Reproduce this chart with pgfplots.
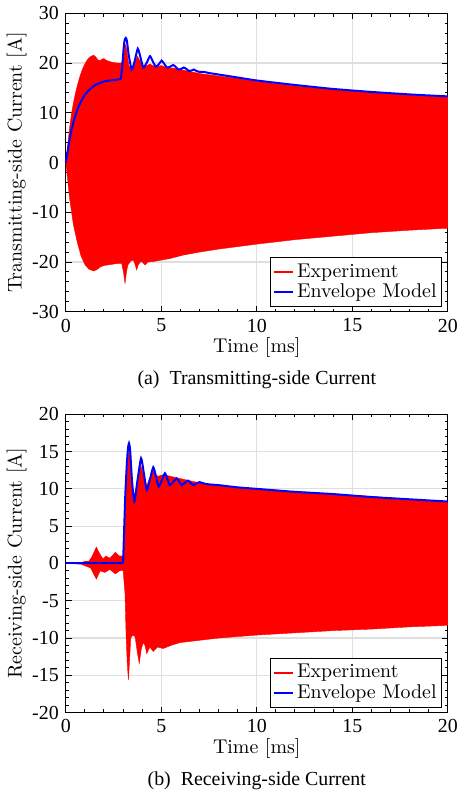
\documentclass[border=0pt]{standalone}
\usepackage{pgfplots}
\pgfplotsset{compat=1.18}
\usepackage{fontspec}
\newfontfamily\timesfont{Liberation Serif}
\begin{document}
\begin{tikzpicture}
\pgfplotsset{
  every axis/.append style={
    scale only axis, width=192pt, height=150pt,
    xmin=0, xmax=20, xtick={0,5,10,15,20},
    xticklabels={0,5,10,15,20},
    ticklabel style={font=\timesfont},
    minor x tick num=4, minor y tick num=4,
    tick align=inside, tick pos=both,
    major tick length=3pt, minor tick length=1.6pt,
    grid=major, major grid style={gray!25, line width=0.6pt},
    axis line style={line width=0.7pt},
    every tick/.style={black, line width=0.5pt},
    xlabel={Time [ms]},
    xlabel style={yshift=4pt},
    ylabel style={yshift=-4pt},
    legend style={at={(0.985,0.015)}, anchor=south east, draw=black, line width=0.5pt,
      font=\normalsize, inner sep=1pt, row sep=-2pt, nodes={inner xsep=1.5pt}},
    legend image code/.code={\draw[#1] (0cm,0cm) -- (0.34cm,0cm);},
    legend cell align=left,
    clip=false,
  }
}
% ---------------- (a) ----------------
\begin{axis}[
  ymin=-30, ymax=30, ytick={-30,-20,-10,0,10,20,30},
  yticklabels={-30,-20,-10,0,10,20,30},
  ylabel={Transmitting-side Current [A]},
]
\addplot[fill=red, draw=red, line width=0.2pt, forget plot] coordinates {
(0,0)(0.1,3.5)(0.2,7)(0.3,9.8)(0.4,12)(0.5,13.8)(0.6,15.4)(0.7,16.8)(0.8,18)(0.9,19)
(1.0,19.8)(1.1,20.5)(1.2,21)(1.3,21.3)(1.45,21.6)(1.55,21.3)(1.7,20.6)(1.8,20.5)(1.9,20.8)
(2.0,20.9)(2.1,20.6)(2.3,20.3)(2.5,20.1)(2.7,20.0)(2.88,20.0)(2.95,20.2)(3.02,21.5)(3.1,23.5)
(3.14,23.7)(3.2,22.5)(3.3,19.5)(3.45,18.7)(3.6,20)(3.75,21.4)(3.9,20.3)(4.06,19.3)(4.25,19.5)
(4.41,19.8)(4.6,19.4)(4.8,19.3)(5.0,19.5)(5.3,19.1)(5.6,19)(6,18.7)(7,17.9)(8.2,17.3)(9,16.9)
(10,16.3)(12,15.4)(14,14.7)(16,14.2)(18,13.6)(20,13.1)
(20,-13.2)(18,-13.6)(16,-14.1)(14,-14.8)(12,-15.5)(10,-16.4)(9,-16.9)(8,-17.4)(7,-18)
(6.15,-18.6)(5.45,-19.3)(4.58,-19.9)(4.3,-20)(4.15,-20.6)(3.95,-19.8)(3.8,-20.5)(3.71,-21.6)
(3.63,-20.5)(3.54,-19.6)(3.4,-19.8)(3.25,-20.6)(3.18,-22)(3.1,-24.3)(3.02,-22)(2.93,-20.3)
(2.7,-20.3)(2.0,-20.7)(1.8,-21)(1.6,-21.6)(1.45,-21.8)(1.2,-21.4)(1.0,-20.5)(0.8,-18.8)
(0.6,-16)(0.4,-12.5)(0.2,-7.2)(0.1,-3.5)(0,0)
} -- cycle;
\addlegendimage{red, line width=0.9pt}
\addlegendentry{Experiment}
\addplot[blue, line width=1pt, smooth, tension=0.4] coordinates {
(0,0)(0.1,2.3)(0.2,4.6)(0.3,6.5)(0.4,8.1)(0.5,9.4)(0.6,10.5)(0.7,11.5)(0.8,12.3)(0.9,13)
(1.0,13.6)(1.2,14.5)(1.4,15.2)(1.6,15.7)(1.8,16.0)(2.0,16.3)(2.3,16.5)(2.6,16.6)(2.88,16.8)
};
\addlegendentry{Envelope Model}
\addplot[blue, line width=1pt, smooth, tension=0.35, forget plot] coordinates {
(2.88,16.8)(2.95,19)(3.02,22.5)(3.08,24.6)(3.14,25.06)(3.2,24.5)(3.3,21.5)(3.45,18.7)(3.6,20.3)
(3.77,22.9)(3.92,21)(4.06,19.1)(4.23,20)(4.41,21.4)(4.56,20.3)(4.71,19.3)(4.86,19.7)(5.02,20.5)
(5.16,19.8)(5.31,19.1)(5.47,19.3)(5.63,19.6)(5.76,19.2)(5.89,18.7)(6.03,18.8)(6.18,19.1)
(6.32,18.8)(6.46,18.4)(6.58,18.5)(6.7,18.7)(6.85,18.4)(7.0,18.2)(7.2,18.25)(7.5,18.0)(8,17.7)
(9,17.1)(10,16.5)(12,15.6)(14,14.8)(16,14.2)(18,13.7)(20,13.3)
};
\node[font=\timesfont] at (rel axis cs:0.5,0) [yshift=-34pt] {(a)\ \ Transmitting-side Current};
\end{axis}
% ---------------- (b) ----------------
\begin{axis}[
  yshift=-201.5pt,
  ymin=-20, ymax=20, ytick={-20,-15,-10,-5,0,5,10,15,20},
  yticklabels={-20,-15,-10,-5,0,5,10,15,20},
  ylabel={Receiving-side Current [A]},
]
\addplot[fill=red, draw=red, line width=0.2pt, forget plot] coordinates {
(0,0)(0.8,0.1)(1.0,0.3)(1.2,0.3)(1.35,0.8)(1.6,2.2)(1.8,1.2)(1.95,0.6)(2.1,1.0)(2.3,0.7)
(2.6,1.5)(2.8,1.0)(3.0,1.0)(3.05,3)(3.15,9.5)(3.25,14)(3.31,15.4)(3.38,13.5)(3.5,9.5)(3.6,8)
(3.75,11.5)(3.92,13.2)(4.05,12)(4.24,10.4)(4.4,11.5)(4.58,12.4)(4.72,11.8)(4.86,11.7)(5.1,11.9)
(5.45,11.7)(6.3,11.2)(7,10.8)(8.2,10.4)(10,10.0)(12,9.6)(14,9.3)(16,9.0)(18,8.6)(20,8.3)
(20,-8.3)(18,-8.5)(16,-8.8)(14,-9.0)(12,-9.3)(10,-9.6)(8,-10.0)(7,-10.3)(6,-10.6)(5.6,-10.9)
(5.1,-11.4)(4.8,-11.2)(4.58,-11.8)(4.4,-11.2)(4.24,-12.1)(4.15,-11)(4.05,-10.6)(3.95,-11.5)
(3.85,-13.4)(3.75,-12)(3.63,-9.8)(3.5,-9.6)(3.4,-10)(3.34,-13)(3.28,-15.6)(3.22,-13.5)
(3.16,-9.8)(3.1,-4)(3.0,-0.9)(2.8,-1.0)(2.6,-1.4)(2.3,-0.8)(2.05,-1.2)(1.8,-1.0)(1.6,-2.1)
(1.3,-0.6)(1.0,-0.3)(0.8,-0.1)(0,0)
} -- cycle;
\addlegendimage{red, line width=0.9pt}
\addlegendentry{Experiment}
\addplot[blue, line width=1pt] coordinates {(0,0)(3.0,0)};
\addlegendentry{Envelope Model}
\addplot[blue, line width=1pt, smooth, tension=0.35, forget plot] coordinates {
(3.0,0)(3.11,8.8)(3.2,13.5)(3.26,15.5)(3.31,16.1)(3.37,15.2)(3.47,11)(3.59,8.3)(3.72,10.5)
(3.94,14.1)(4.08,12.2)(4.24,9.8)(4.4,11.2)(4.58,12.9)(4.72,11.7)(4.86,10.3)(5.02,11.1)(5.19,12.1)
(5.32,11.3)(5.45,10.5)(5.62,10.9)(5.8,11.4)(5.93,11)(6.06,10.5)(6.23,10.8)(6.4,11.1)(6.53,10.8)
(6.67,10.5)(6.83,10.7)(7.0,10.9)(7.25,10.7)(7.5,10.6)(8,10.5)(9,10.2)(10,10.0)
(12,9.6)(14,9.3)(16,8.9)(18,8.6)(20,8.3)
};
\node[font=\timesfont] at (rel axis cs:0.5,0) [yshift=-34pt] {(b)\ \ Receiving-side Current};
\end{axis}
\end{tikzpicture}
\end{document}
